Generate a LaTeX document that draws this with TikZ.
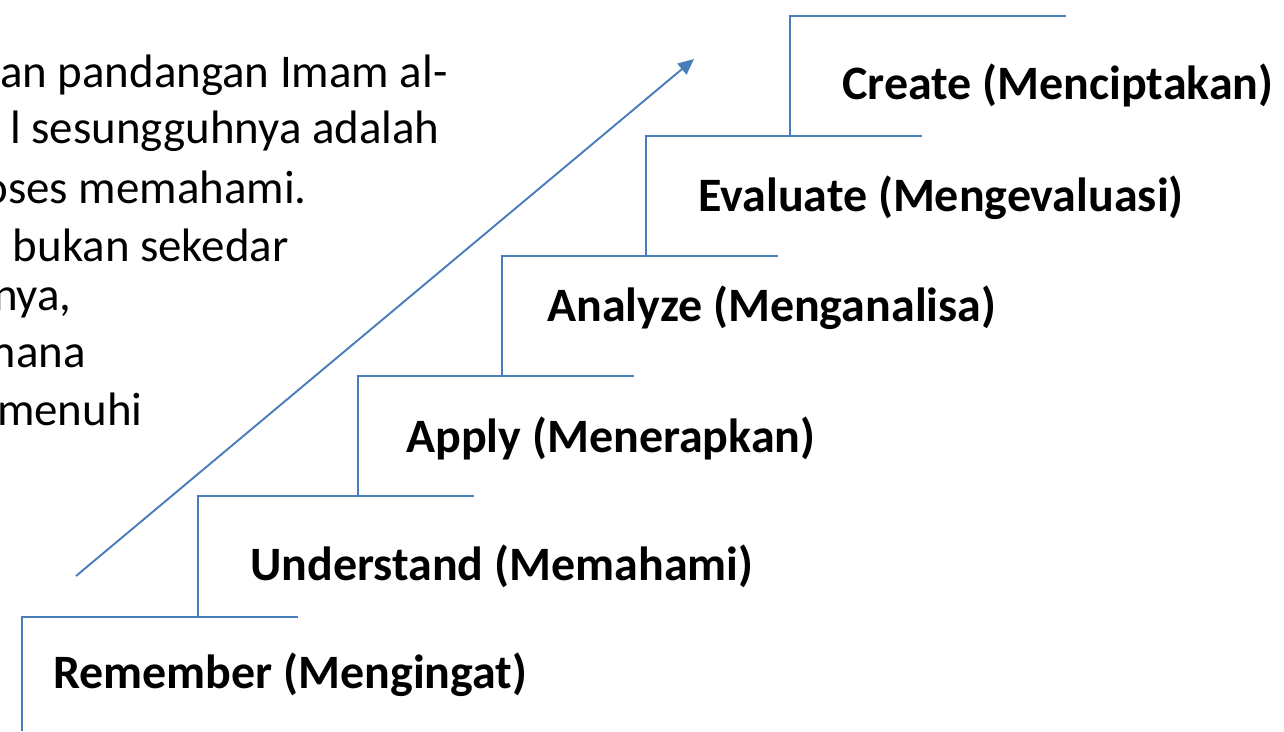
\documentclass[tikz,border=0pt]{standalone}
\usepackage{fontspec}
\setmainfont{Carlito}
\usetikzlibrary{arrows.meta, positioning}
\definecolor{stepblue}{RGB}{74,126,187}

\begin{document}
\begin{tikzpicture}[x=0.02cm, y=-0.02cm,
    stair/.style={draw=stepblue, line width=1.1pt},
    lbl/.style={anchor=base west, inner sep=0pt, font=\fontsize{27.3}{32}\selectfont\bfseries},
    para/.style={anchor=base east, inner sep=0pt, font=\fontsize{26.7}{32}\selectfont},
    arrow/.style={-{Triangle[length=9pt, width=8pt]}, draw=stepblue, fill=stepblue, line width=1.1pt}
]
\useasboundingbox (0,0) rectangle (1284,731);

% teks kiri (terpotong di tepi)
\begin{scope}
\clip (0,0) rectangle (1284,731);
\node[para] (p1) at (448,87) {an pandangan Imam al-};
\node[para] (p2) at (440,143) {l sesungguhnya adalah};
\node[para] (p3) at (307,203) {oses memahami.};
\node[para] (p4) at (289,261) {bukan sekedar};
\node[para] (p5) at (72,310) {nya,};
\node[para] (p6) at (86,367) {mana};
\node[para] (p7) at (143,425) {menuhi};
\end{scope}

% sudut anak tangga
\coordinate (s1) at (22,617);
\coordinate (s2) at (198,496);
\coordinate (s3) at (358,376);
\coordinate (s4) at (502,256);
\coordinate (s5) at (646,136);
\coordinate (s6) at (790,16);

% anak tangga
\draw[stair] (s1 |- 0,731) -- (s1) -- ++(276,0);
\draw[stair] (s2 |- s1) -- (s2) -- ++(276,0);
\draw[stair] (s3 |- s2) -- (s3) -- ++(276,0);
\draw[stair] (s4 |- s3) -- (s4) -- ++(276,0);
\draw[stair] (s5 |- s4) -- (s5) -- ++(276,0);
\draw[stair] (s6 |- s5) -- (s6) -- ++(276,0);

% label tingkat
\node[lbl] (remember) at (53,688) {Remember (Mengingat)};
\node[lbl] (understand) at (250,580) {Understand (Memahami)};
\node[lbl] (apply) at (406,452) {Apply (Menerapkan)};
\node[lbl] (analyze) at (547,321) {Analyze (Menganalisa)};
\node[lbl] (evaluate) at (698,211) {Evaluate (Mengevaluasi)};
\node[lbl] (create) at (842,99) {Create (Menciptakan)};

% panah naik
\coordinate (a0) at (76,576);
\coordinate (a1) at (694,59);
\draw[arrow] (a0) -- (a1);
\end{tikzpicture}
\end{document}
